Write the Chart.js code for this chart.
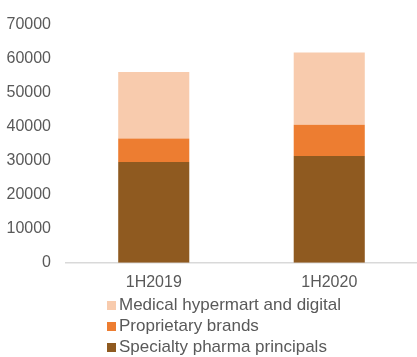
<!DOCTYPE html>
<html>
<head>
<meta charset="utf-8">
<script src="https://cdn.jsdelivr.net/npm/chart.js@4/dist/chart.umd.min.js"></script>
<style>
  html, body { margin: 0; padding: 0; background: #fff; overflow: hidden; }
  #wrap { position: relative; width: 417px; height: 302px; }
  #legend { position: absolute; top: 294px; left: 0; margin: 0; padding: 0 0 0 107px; list-style: none;
            font-family: "Liberation Sans", Arial, sans-serif; font-size: 17px; color: #595959; }
  #legend li { height: 21px; line-height: 21px; white-space: nowrap; }
  #legend span.box { display: inline-block; width: 9px; height: 9px; margin-right: 3px; vertical-align: 0px; }
</style>
</head>
<body>
<div id="wrap"><canvas id="grafica"></canvas></div>
<ul id="legend"></ul>
<script>
// datos
const periodos = ['1H2019', '1H2020'];
const specialtyPharma = [29600, 31400];
const proprietaryBrands = [6900, 9200];
const medicalHypermart = [19600, 21200];
const ticksY = [0, 10000, 20000, 30000, 40000, 50000, 60000, 70000];

const fuente = '"Liberation Sans", Arial, sans-serif';
const gris = '#595959';

const ctx = document.getElementById('grafica').getContext('2d');
const grafica = new Chart(ctx, {
    type: 'bar',
    data: {
        labels: periodos,
        datasets: [{
            label: 'Specialty pharma principals',
            data: specialtyPharma,
            backgroundColor: '#8F5A20'
        }, {
            label: 'Proprietary brands',
            data: proprietaryBrands,
            backgroundColor: '#ED7D31'
        }, {
            label: 'Medical hypermart and digital',
            data: medicalHypermart,
            backgroundColor: '#F8CBAD'
        }]
    },
    options: {
        responsive: true,
        maintainAspectRatio: false,
        animation: false,
        categoryPercentage: 1,
        barPercentage: 0.405,
        layout: { padding: { top: 17, right: 0, left: 0, bottom: 0 } },
        plugins: {
            legend: { display: false },
            tooltip: { enabled: false }
        },
        scales: {
            x: {
                stacked: true,
                grid: { display: false, drawTicks: false },
                border: { display: true, color: '#D9D9D9', width: 1.5 },
                ticks: { color: gris, font: { family: fuente, size: 16 }, padding: 10 }
            },
            y: {
                stacked: true,
                min: 0,
                max: ticksY[ticksY.length - 1],
                afterBuildTicks: (axis) => { axis.ticks = ticksY.map(v => ({ value: v })); },
                afterFit: (axis) => { axis.width = 66; },
                grid: { display: false, drawTicks: false },
                border: { display: false },
                ticks: {
                    color: gris,
                    font: { family: fuente, size: 16 },
                    padding: 15,
                    callback: (v) => String(v)
                }
            }
        }
    }
});

// leyenda en html, en orden inverso como el original
const ul = document.getElementById('legend');
grafica.data.datasets.slice().reverse().forEach(ds => {
    const li = document.createElement('li');
    const box = document.createElement('span');
    box.className = 'box';
    box.style.background = ds.backgroundColor;
    li.appendChild(box);
    li.appendChild(document.createTextNode(ds.label));
    ul.appendChild(li);
});
</script>
</body>
</html>
